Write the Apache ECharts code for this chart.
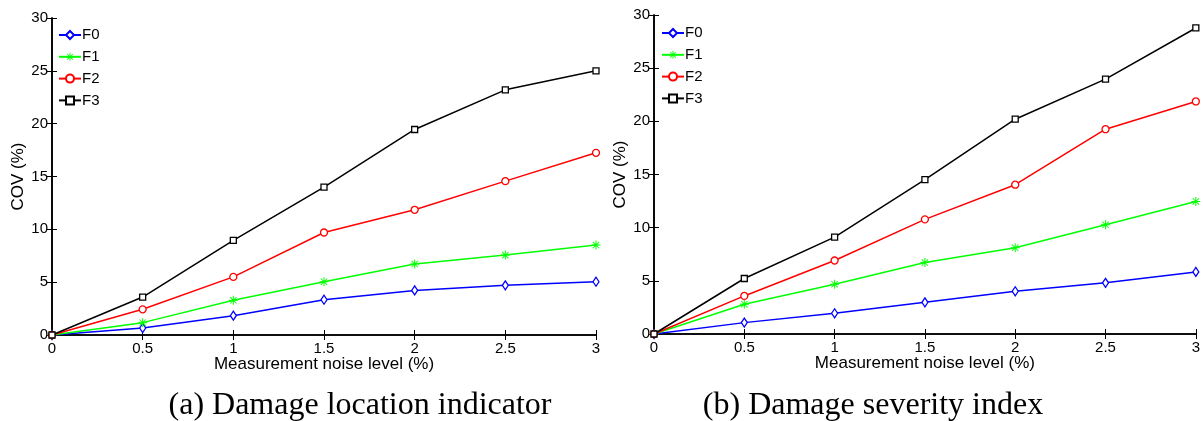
<!DOCTYPE html>
<html>
<head>
<meta charset="utf-8">
<script src="https://cdn.jsdelivr.net/npm/echarts@6/dist/echarts.min.js"></script>
<style>
  html, body { margin: 0; padding: 0; background: #fff; }
  #chart { width: 1203px; height: 421px; }
</style>
</head>
<body>
<div id="chart"></div>
<script>
// Measurement noise levels (%)
const noiseLevels = [0, 0.5, 1, 1.5, 2, 2.5, 3];

// COV (%) of the damage location indicator
const locF0 = [0, 0.66, 1.83, 3.34, 4.22, 4.70, 5.04];
const locF1 = [0, 1.17, 3.28, 5.04, 6.71, 7.56, 8.51];
const locF2 = [0, 2.43, 5.50, 9.70, 11.85, 14.56, 17.24];
const locF3 = [0, 3.59, 8.95, 14.00, 19.45, 23.20, 25.00];

// COV (%) of the damage severity index
const sevF0 = [0, 1.07, 1.95, 2.98, 4.02, 4.81, 5.84];
const sevF1 = [0, 2.80, 4.68, 6.72, 8.11, 10.27, 12.47];
const sevF2 = [0, 3.58, 6.91, 10.78, 14.04, 19.26, 21.87];
const sevF3 = [0, 5.22, 9.11, 14.51, 20.20, 23.97, 28.78];

const seriesNames = ['F0', 'F1', 'F2', 'F3'];
const captions = ['(a) Damage location indicator', '(b) Damage severity index'];
const xTitle = 'Measurement noise level (%)';
const yTitle = 'COV (%)';

const FONT = '"Liberation Sans", Arial, Helvetica, sans-serif';
const colors = ['#0000ff', '#00ff00', '#ff0000', '#000000'];
// asterisk marker built from four thin bars
const asterisk = 'path://M0 4.45L10 4.45L10 5.55L0 5.55Z M4.45 0L5.55 0L5.55 10L4.45 10Z ' +
  'M1.1 1.8L1.8 1.1L8.9 8.2L8.2 8.9Z M8.2 1.1L8.9 1.8L1.8 8.9L1.1 8.2Z';
const markers = [
  { symbol: 'diamond', size: [6, 9], hollow: true },
  { symbol: asterisk, size: 9, hollow: false },
  { symbol: 'circle', size: 7, hollow: true },
  { symbol: 'rect', size: 6, hollow: true }
];

const panels = [
  { grid: { left: 52, top: 18, width: 544, height: 317 }, data: [locF0, locF1, locF2, locF3], legendLeft: 58, legendTop: 27.5, caption: captions[0], capX: 360 },
  { grid: { left: 654, top: 15, width: 544, height: 319 }, data: [sevF0, sevF1, sevF2, sevF3], legendLeft: 661, legendTop: 25.5, caption: captions[1], capX: 873 }
];

const grids = [], xAxes = [], yAxes = [], series = [], legends = [], graphics = [];
const frame = { show: true, lineStyle: { color: '#000', width: 1.6 } };
const innerTicks = { show: true, inside: true, length: 5, lineStyle: { color: '#000', width: 1 } };

panels.forEach((p, gi) => {
  grids.push(Object.assign({ containLabel: false }, p.grid));
  // bottom axis with labels, top axis for the frame and ticks
  xAxes.push({
    type: 'value', gridIndex: gi, position: 'bottom', min: 0, max: 3, interval: 0.5,
    axisLine: frame, axisTick: innerTicks, splitLine: { show: false },
    axisLabel: { color: '#000', fontFamily: FONT, fontSize: 15, margin: 6, showMinLabel: true, showMaxLabel: true },
    name: xTitle, nameLocation: 'middle', nameGap: 21, nameMoveOverlap: false,
    nameTextStyle: { color: '#000', fontFamily: FONT, fontSize: 17, verticalAlign: 'top' }
  });
  xAxes.push({
    type: 'value', gridIndex: gi, position: 'top', min: 0, max: 3, interval: 0.5,
    axisLine: frame, axisTick: innerTicks, splitLine: { show: false }, axisLabel: { show: false }
  });
  yAxes.push({
    type: 'value', gridIndex: gi, position: 'left', min: 0, max: 30, interval: 5,
    axisLine: frame, axisTick: innerTicks, splitLine: { show: false },
    axisLabel: { color: '#000', fontFamily: FONT, fontSize: 15, margin: 4 },
    name: yTitle, nameLocation: 'middle', nameGap: 25, nameMoveOverlap: false,
    nameTextStyle: { color: '#000', fontFamily: FONT, fontSize: 17 }
  });
  yAxes.push({
    type: 'value', gridIndex: gi, position: 'right', min: 0, max: 30, interval: 5,
    axisLine: frame, axisTick: innerTicks, splitLine: { show: false }, axisLabel: { show: false }
  });

  p.data.forEach((vals, si) => {
    const m = markers[si];
    series.push({
      type: 'line', name: seriesNames[si],
      xAxisIndex: gi * 2, yAxisIndex: gi * 2,
      data: noiseLevels.map((x, i) => [x, vals[i]]),
      symbol: m.symbol, symbolSize: m.size, showSymbol: true,
      lineStyle: { color: colors[si], width: 1.5 },
      itemStyle: m.hollow
        ? { color: '#ffffff', borderColor: colors[si], borderWidth: 1.3 }
        : { color: colors[si], borderWidth: 0 },
      z: 2 + si, animation: false, silent: true
    });
  });

  legends.push({
    show: true, orient: 'vertical', left: p.legendLeft, top: p.legendTop,
    data: seriesNames.map(n => ({ name: n })), selectedMode: false,
    itemWidth: 22, itemHeight: 10, itemGap: 6.8, padding: 0,
    textStyle: { color: '#000', fontFamily: FONT, fontSize: 15, padding: [0, 0, 0, -4] }
  });

  graphics.push({
    type: 'text', x: p.capX, y: 406,
    style: {
      text: p.caption, fill: '#000', font: '32px "Liberation Serif", "Times New Roman", serif',
      textAlign: 'center', textVerticalAlign: 'middle', verticalAlign: 'middle'
    }
  });
});

const chart = echarts.init(document.getElementById('chart'), null, { renderer: 'canvas' });
chart.setOption({
  animation: false,
  backgroundColor: '#ffffff',
  grid: grids,
  xAxis: xAxes,
  yAxis: yAxes,
  legend: legends,
  series: series,
  graphic: graphics
});
</script>
</body>
</html>
